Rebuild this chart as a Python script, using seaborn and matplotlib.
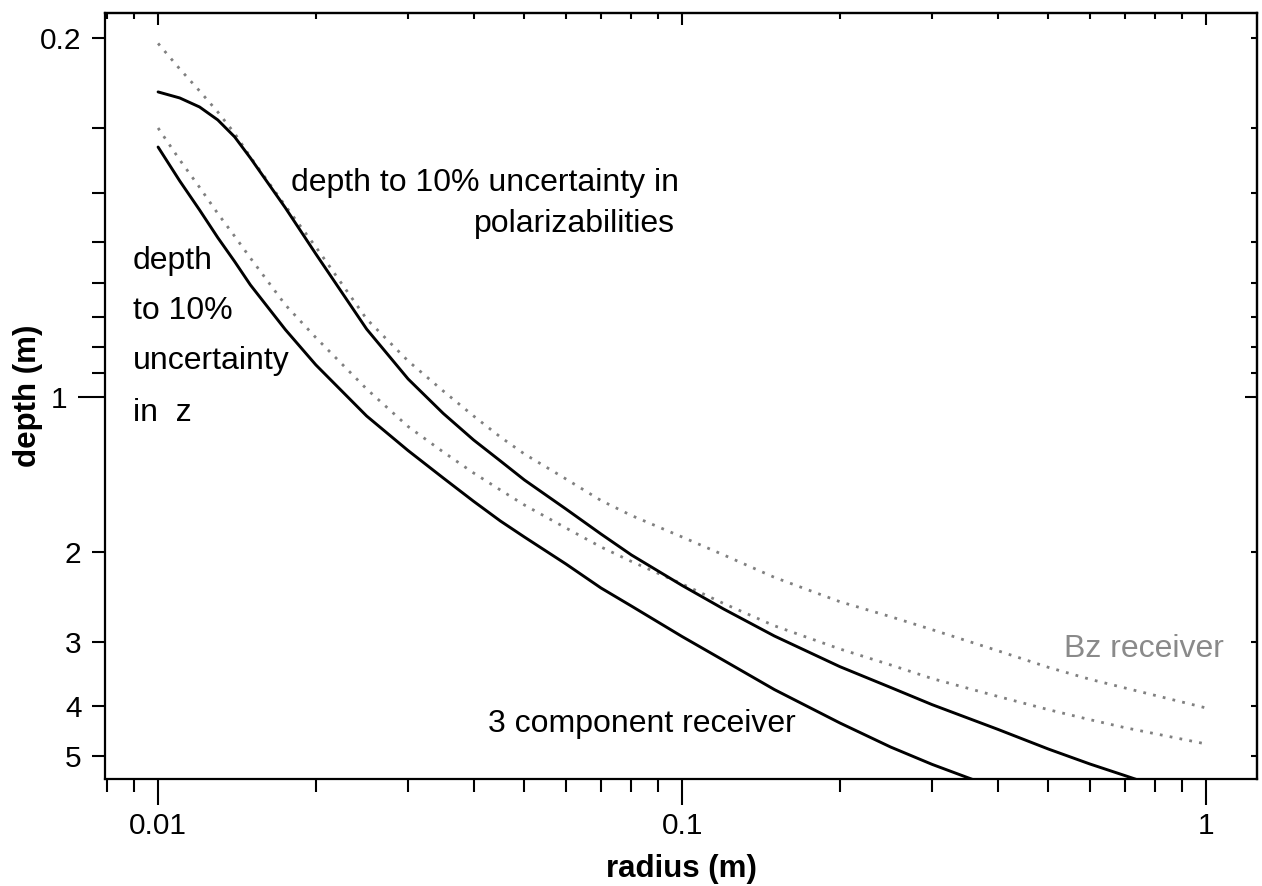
import numpy as np
import pandas as pd
import matplotlib
matplotlib.use("Agg")
import matplotlib.pyplot as plt
from matplotlib import ticker
import seaborn as sns

# Sphere radius (m)
radius = [0.01, 0.011, 0.012, 0.013, 0.014, 0.015, 0.0175, 0.02, 0.025, 0.03,
          0.035, 0.04, 0.045, 0.05, 0.06, 0.07, 0.08, 0.1, 0.12, 0.15, 0.2,
          0.25, 0.3, 0.4, 0.5, 0.6, 0.7, 1.0]

# Depth (m) at which the uncertainty reaches 10%
pol_3comp = [0.2547, 0.2617, 0.2725, 0.2888, 0.3116, 0.3424, 0.4285, 0.5266,
             0.7375, 0.9225, 1.0763, 1.2126, 1.3322, 1.4506, 1.6522, 1.8483,
             2.0302, 2.3282, 2.5872, 2.9203, 3.3504, 3.6782, 3.9729, 4.4361,
             4.8477, 5.1836, 5.4606, 6.1742]
z_3comp = [0.3261, 0.3797, 0.4324, 0.4895, 0.5449, 0.6050, 0.7397, 0.8660,
           1.0890, 1.2717, 1.4377, 1.5963, 1.7438, 1.8734, 2.1140, 2.3544,
           2.5527, 2.9275, 3.2572, 3.7130, 4.3126, 4.8044, 5.1929, 5.7931,
           6.2774, 6.6802, 7.0240, 7.8714]
pol_bz = [0.2049, 0.2298, 0.2536, 0.2787, 0.3068, 0.3409, 0.4247, 0.5104,
          0.7050, 0.8509, 0.9735, 1.0890, 1.1966, 1.2911, 1.4441, 1.5904,
          1.7009, 1.8734, 2.0302, 2.2452, 2.5038, 2.6780, 2.8385, 3.1187,
          3.3609, 3.5453, 3.6864, 4.0322]
z_bz = [0.2994, 0.3455, 0.3907, 0.4393, 0.4865, 0.5362, 0.6620, 0.7663,
        0.9648, 1.1418, 1.2795, 1.4059, 1.5175, 1.6229, 1.7989, 1.9590,
        2.0904, 2.3126, 2.5242, 2.7895, 3.0950, 3.3249, 3.5342, 3.8277,
        4.0630, 4.2492, 4.4045, 4.7389]

x_tick_values = [0.01, 0.1, 1]
y_labelled = [0.2, 2, 3, 4, 5]
y_minor = [0.2, 0.3, 0.4, 0.5, 0.6, 0.7, 0.8, 0.9, 2, 3, 4, 5]

sns.set_theme(style="ticks")
plt.rcParams["font.family"] = ["Liberation Sans", "DejaVu Sans"]
plt.rcParams["axes.linewidth"] = 1.6
plt.rcParams["text.color"] = "black"
plt.rcParams["axes.labelcolor"] = "black"

W, H = 1262, 886
fig = plt.figure(figsize=(W / 100, H / 100), dpi=100)
ax = fig.add_axes([105 / W, 1 - 779 / H, (1257 - 105) / W, (779 - 13) / H])

solid_kw = dict(color="black", linewidth=2.1, estimator=None, sort=False)
dot_kw = dict(color="#808080", linewidth=2.0, linestyle=(0, (1, 2.6)),
              estimator=None, sort=False)

sns.lineplot(x=radius, y=pol_bz, ax=ax, **dot_kw)
sns.lineplot(x=radius, y=z_bz, ax=ax, **dot_kw)
sns.lineplot(x=radius, y=pol_3comp, ax=ax, **solid_kw)
sns.lineplot(x=radius, y=z_3comp, ax=ax, **solid_kw)

ax.set_xscale("log")
ax.set_yscale("log")
ax.set_xlim(0.00792, 1.25)
ax.set_ylim(5.544, 0.1788)

# x axis ticks
ax.xaxis.set_major_locator(ticker.FixedLocator(x_tick_values))
ax.xaxis.set_major_formatter(ticker.FuncFormatter(lambda v, _: f"{v:g}"))
ax.xaxis.set_minor_locator(ticker.LogLocator(base=10, subs=np.arange(2, 10)))
ax.xaxis.set_minor_formatter(ticker.NullFormatter())

# y axis ticks: long tick only at the decade, labels on selected minor ticks
ax.yaxis.set_major_locator(ticker.FixedLocator([1]))
ax.yaxis.set_major_formatter(ticker.FuncFormatter(lambda v, _: f"{v:g}"))
ax.yaxis.set_minor_locator(ticker.FixedLocator(y_minor))
ax.yaxis.set_minor_formatter(ticker.FuncFormatter(
    lambda v, _: f"{v:g}" if any(abs(v - t) < 1e-9 for t in y_labelled) else ""))

ax.tick_params(axis="both", which="both", direction="out", width=1.5,
               color="black", labelcolor="black", labelsize=21.5)
ax.tick_params(axis="x", which="major", length=19, pad=4.5)
ax.tick_params(axis="x", which="minor", length=9.5)
ax.tick_params(axis="y", which="major", length=19.5, pad=7.5)
ax.tick_params(axis="y", which="minor", length=9.5, pad=7.5)

for s in ax.spines.values():
    s.set_visible(True)
    s.set_linewidth(1.6)
    s.set_color("black")

# inward ticks on top and right
top = ax.secondary_xaxis("top")
top.tick_params(which="both", direction="in", width=1.5, labeltop=False, color="black")
top.tick_params(which="major", length=8.6)
top.tick_params(which="minor", length=4.5)
top.xaxis.set_major_formatter(ticker.NullFormatter())
top.xaxis.set_minor_formatter(ticker.NullFormatter())
top.spines["top"].set_linewidth(1.6)

right = ax.secondary_yaxis("right")
right.tick_params(which="both", direction="in", width=1.5, labelright=False, color="black")
right.tick_params(which="major", length=8.6)
right.tick_params(which="minor", length=4.5)
right.yaxis.set_major_formatter(ticker.NullFormatter())
right.yaxis.set_minor_formatter(ticker.NullFormatter())
right.spines["right"].set_linewidth(1.6)

ax.set_xlabel("radius (m)", fontsize=22.5, fontweight="bold", labelpad=10,
              color="black")
ax.set_ylabel("depth (m)", fontsize=22.5, fontweight="bold", va="center",
              color="black")
ax.yaxis.set_label_coords((28 - 105) / (1257 - 105), 0.5)

txt = dict(fontsize=23, color="black", ha="left", va="baseline")
ax.text(0.0179, 0.397, "depth to 10% uncertainty in", **txt)
ax.text(0.0400, 0.477, "polarizabilities", **txt)
ax.text(0.00896, 0.563, "depth", **txt)
ax.text(0.00896, 0.705, "to 10%", **txt)
ax.text(0.00896, 0.882, "uncertainty", **txt)
ax.text(0.00896, 1.1135, "in  z", **txt)
ax.text(0.0427, 4.49, "3 component receiver", **txt)
ax.text(0.535, 3.208, "Bz receiver", fontsize=23, color="#8a8a8a",
        ha="left", va="baseline")

fig.savefig("out.png", dpi=100, facecolor="white")
